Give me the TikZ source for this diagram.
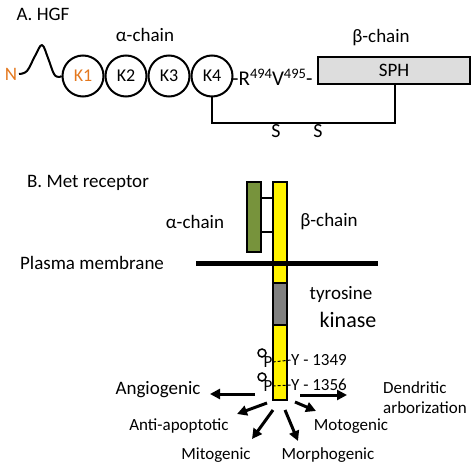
\documentclass[tikz,border=0pt]{standalone}
\usepackage{fontspec}
\setmainfont{Carlito}
\usetikzlibrary{arrows.meta}
\definecolor{orangeK}{RGB}{228,120,30}
\definecolor{oliveG}{RGB}{119,147,60}
\definecolor{sphgray}{RGB}{221,221,221}
\definecolor{kingray}{RGB}{128,128,128}
\newcommand{\supnum}[1]{\raisebox{7pt}{\fontsize{14.5}{14}\selectfont #1}}
\begin{document}
\begin{tikzpicture}[x=1pt,y=-1pt,
 txt/.style={inner sep=0pt, font=\fontsize{19}{22}\selectfont},
 lbl/.style={inner sep=0pt, font=\fontsize{17}{20}\selectfont},
 kring/.style={circle, draw, line width=2pt, minimum size=41pt, inner sep=0pt, font=\fontsize{18}{20}\selectfont},
 bar/.style={draw, line width=2pt, inner sep=0pt, minimum width=14pt},
 arr/.style={line width=3pt, -{Triangle[length=10pt,width=10pt]}},
 pcirc/.style={circle, draw, line width=1.5pt, minimum size=8pt, inner sep=0pt},
 ]
\useasboundingbox (0,0) rectangle (474,468);
% ---------- Part A ----------
\node[txt] (titA) at (43,14) {A. HGF};
\node[txt] (achA) at (145,35) {α-chain};
\node[txt, text=orangeK] (N) at (11,74) {N};
\node[kring, text=orangeK] (K1) at (83,76) {K1};
\node[kring] (K2) at (126,76) {K2};
\node[kring] (K3) at (169,76) {K3};
\node[kring] (K4) at (212,76) {K4};
\draw[line width=2pt, line join=round] plot[smooth, tension=0.6] coordinates {(19,74) (27,71) (35,56) (42,45) (48,58) (54,74) (59,77) (K1.west)};
\node[inner sep=0pt, font=\fontsize{21}{22}\selectfont, anchor=west] (RV) at (232,77) {-R\supnum{494}V\supnum{495}-};
\node[draw, line width=2pt, fill=sphgray, minimum width=152pt, minimum height=27pt, inner sep=0pt, txt] (SPH) at (394,70.5) {SPH};
\node[txt] (bchA) at (381,38) {β-chain};
\coordinate (ss) at (395,123);
\draw[line width=2pt] (K4.south) |- (ss) -- (ss |- SPH.south);
\node[inner sep=0pt, font=\fontsize{20}{22}\selectfont] (S1) at (276,131) {S};
\node[inner sep=0pt, font=\fontsize{20}{22}\selectfont] (S2) at (318,131) {S};
% ---------- Part B ----------
\node[txt] (titB) at (88,183) {B. Met receptor};
\node[bar, fill=oliveG, minimum height=70pt] (alpha) at (254,217) {};
\node[bar, fill=yellow, minimum height=218pt] (beta) at (280,291) {};
\node[bar, fill=kingray, minimum height=42pt] (kin) at (280,304) {};
\draw[line width=2pt] (alpha.east |- 0,198) -- (beta.west |- 0,198);
\draw[line width=2pt] (alpha.east |- 0,232) -- (beta.west |- 0,232);
\node[txt] (achB) at (195,222) {α-chain};
\node[txt] (bchB) at (329,222) {β-chain};
\node[txt] (pm) at (92,263) {Plasma membrane};
\coordinate (m1) at (196,263);
\coordinate (m2) at (378,263);
\draw[line width=5pt] (m1) -- (m2);
\node[txt] (tyr) at (341,294) {tyrosine};
\node[inner sep=0pt, font=\fontsize{22}{26}\selectfont] (kinase) at (348,320) {kinase};
% phosphates
\node[pcirc] (c1) at (262,353) {};
\node[pcirc] (c2) at (262,377) {};
\node[lbl] (p1) at (268,362) {P};
\node[lbl] (p2) at (268,386) {P};
\node[lbl, anchor=west] (y1) at (291,360) {Y - 1349};
\node[lbl, anchor=west] (y2) at (291,385) {Y - 1356};
\draw[line width=1pt, dash pattern=on 3pt off 2pt] (p1.east) -- (y1.west);
\draw[line width=1pt, dash pattern=on 3pt off 2pt] (p2.east) -- (y2.west);
% outputs
\node[txt] (ang) at (158,390) {Angiogenic};
\node[lbl, align=left, anchor=west] (den) at (383,398) {Dendritic\\arborization};
\node[lbl] (anti) at (179,426) {Anti-apoptotic};
\node[lbl] (mito) at (216,455) {Mitogenic};
\node[lbl] (morph) at (328,455) {Morphogenic};
\node[lbl] (moto) at (351,426) {Motogenic};
\coordinate (a1s) at (255,394); \coordinate (a1e) at (210,394);
\coordinate (a2s) at (300,395); \coordinate (a2e) at (347,395);
\coordinate (a3s) at (267,403); \coordinate (a3e) at (237,414);
\coordinate (a4s) at (273,410); \coordinate (a4e) at (252,439);
\coordinate (a5s) at (285,410); \coordinate (a5e) at (298,441);
\coordinate (a6s) at (295,402); \coordinate (a6e) at (316,411);
\draw[arr] (a1s) -- (a1e);
\draw[arr] (a2s) -- (a2e);
\draw[arr] (a3s) -- (a3e);
\draw[arr] (a4s) -- (a4e);
\draw[arr] (a5s) -- (a5e);
\draw[arr] (a6s) -- (a6e);
\end{tikzpicture}
\end{document}
